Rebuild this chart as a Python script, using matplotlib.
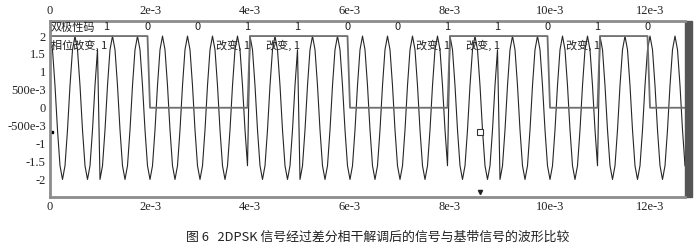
import numpy as np
import matplotlib
matplotlib.use("Agg")
from matplotlib import pyplot as plt
from matplotlib.patches import Rectangle

# absolute code, one bit per 1e-3 s (bit 0 covers 0..1e-3)
bits = [1, 1, 0, 0, 1, 1, 0, 0, 1, 1, 0, 1, 0]
bit_time = 1e-3
carrier_freq = 2000.0
amp = 2.0
samples_per_bit = 20
t_end = 12.7e-3

x_ticks = [0, 2e-3, 4e-3, 6e-3, 8e-3, 10e-3, 12e-3]
x_ticklabels = ["0", "2e-3", "4e-3", "6e-3", "8e-3", "10e-3", "12e-3"]
y_ticks = [2, 1.5, 1, 0.5, 0, -0.5, -1, -1.5, -2]
y_ticklabels = ["2", "1.5", "1", "500e-3", "0", "-500e-3", "-1", "-1.5", "-2"]

code_label = "双极性码"
first_change_label = "相位改变, 1"
change_label = "改变, 1"
caption = "图 6   2DPSK 信号经过差分相干解调后的信号与基带信号的波形比较"

# cursor marks left on the graph
dot_pos = (0.03e-3, -0.68)
cursor_pos = (8.6e-3, -0.69)
arrow_pos = (8.6e-3, -2.36)

plt.rcParams['font.family'] = ['Noto Sans CJK SC', 'DejaVu Sans']

# sampled signals: phase flips by pi at every bit boundary where the bit is 1
n_samples = int(round(t_end / bit_time * samples_per_bit)) + 1
k = np.arange(n_samples)
t = k * bit_time / samples_per_bit
bit_idx = k // samples_per_bit
flips = np.cumsum([0] + bits[1:])
dpsk = amp * np.cos(2 * np.pi * carrier_freq * t + np.pi * flips[bit_idx])
baseband = amp * np.array(bits)[bit_idx]

fig = plt.figure(figsize=(7, 2.5), dpi=100)
ax = fig.add_axes([50/700, 1 - 197/250, 635/700, 176/250])

ax.plot(t, dpsk, color="#262626", lw=0.8)
ax.plot(t, baseband, color="#6e6e6e", lw=1.3)

ax.set_xlim(0, t_end)
ax.set_ylim(-2.49, 2.42)

tick_font = dict(family="Liberation Serif", size=9)
ax.set_xticks(x_ticks)
ax.set_xticklabels(x_ticklabels, **tick_font)
ax.set_yticks(y_ticks)
ax.set_yticklabels(y_ticklabels, **tick_font)
ax.tick_params(axis="x", top=True, labeltop=True, length=0, pad=3, colors="#222222")
ax.tick_params(axis="y", length=0, pad=3, colors="#222222")

for side in ["top", "bottom", "left"]:
    ax.spines[side].set_color("#8c8c8c")
    ax.spines[side].set_linewidth(2)
ax.spines["right"].set_visible(False)
ax.add_patch(Rectangle((1.0, 0), 7/635, 1.0, transform=ax.transAxes,
                       color="#555555", clip_on=False))

# bit labels along the top and the phase-change notes below them
ax.text(0.02e-3, 2.24, code_label, fontsize=8, va="center", ha="left", color="#222222")
for n in range(1, len(bits)):
    xpos = n * bit_time - 0.05e-3 if n > 1 else 1.12e-3
    ax.text(xpos, 2.24, str(bits[n]), fontsize=8,
            va="center", ha="center", color="#222222")
    if bits[n] == 1:
        if n == 1:
            ax.text(0.02e-3, 1.75, first_change_label, fontsize=8,
                    va="center", ha="left", color="#222222")
        else:
            ax.text(n * bit_time, 1.75, change_label, fontsize=8,
                    va="center", ha="right", color="#222222")

ax.plot(*dot_pos, marker="s", ms=2, color="black")
ax.plot(*cursor_pos, marker="s", ms=4, mfc="white", mec="#333333", mew=0.8)
ax.plot(*arrow_pos, marker="v", ms=3, color="#222222", clip_on=False)

fig.text(0.54, 0.052, caption, fontsize=9.3, ha="center", va="center", color="#222222")

fig.savefig("out.png", dpi=100)
